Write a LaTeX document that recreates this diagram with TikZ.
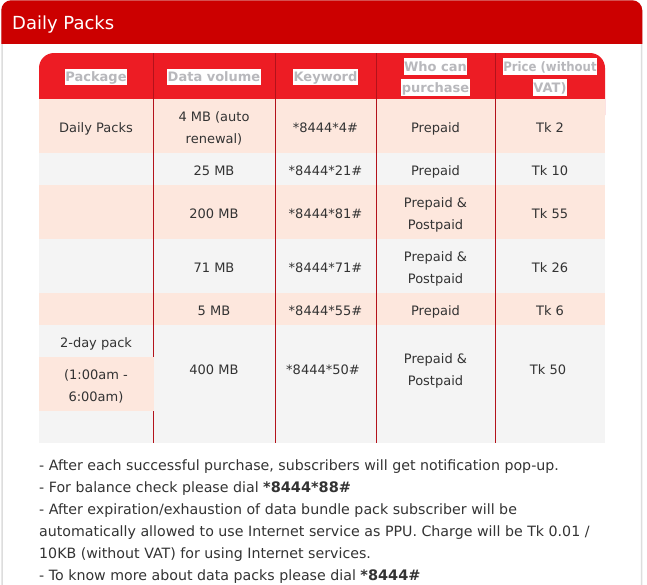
\documentclass[tikz,border=0pt]{standalone}
\usepackage{fontspec}
\setmainfont{DejaVu Sans}
\newfontfamily\condfont{DejaVu Sans Condensed}
\definecolor{barred}{HTML}{CC0000}
\definecolor{headred}{HTML}{ED1C24}
\definecolor{linered}{HTML}{B3121B}
\definecolor{peach}{HTML}{FDE7DD}
\definecolor{rowgray}{HTML}{F4F4F4}
\definecolor{headgray}{HTML}{B8B8BC}
\definecolor{textdark}{HTML}{333333}
\definecolor{framegray}{HTML}{DDDDDD}
\begin{document}
\begin{tikzpicture}[x=1pt,y=-1pt,
    cell/.style={anchor=base,inner sep=0pt,text=textdark,font=\fontsize{13}{15}\selectfont},
    head/.style={anchor=base,fill=white,text=headgray,inner xsep=0.5pt,inner ysep=1pt,
        text height=12pt,text depth=2.5pt,font=\fontsize{13}{15}\selectfont\bfseries},
    note/.style={anchor=base west,inner sep=0pt,text=textdark,font=\fontsize{14.2}{17}\selectfont}]
    \useasboundingbox (0,0) rectangle (647,584);
    \clip (0,0) rectangle (647,584);
    \fill [white] (0,0) rectangle (647,584);
    % frame and title bar
    \draw [framegray, line width=1.5pt, fill=white, rounded corners=10pt] (2,1) rectangle (641.5,620);
    \begin{scope}
        \clip (0,0) rectangle (647,43);
        \fill [barred, rounded corners=10pt] (1.25,0.25) rectangle (642.25,80);
    \end{scope}
    \node [anchor=base west, inner sep=0pt, text=white, font=\fontsize{18}{20}\selectfont] (title) at (12,29.5) {Daily Packs};
    % table background
    \fill [headred, rounded corners=15pt] (39,53) rectangle (605,130);
    \fill [peach] (39,99) rectangle (605,153);
    \fill [rowgray] (39,153) rectangle (605,185);
    \fill [peach] (39,185) rectangle (605,239);
    \fill [rowgray] (39,239) rectangle (605,293);
    \fill [peach] (39,293) rectangle (605,325);
    \fill [rowgray] (39,325) rectangle (605,443);
    \foreach \x in {153,275,376,495}
        \draw [linered, line width=1pt] (\x,53) -- (\x,443);
    \fill [peach] (39,357) rectangle (153.6,411);
    % header
    \node [head] (hpack) at (96,81.5) {Package};
    \node [head] (hdata) at (214,81.5) {Data volume};
    \node [head] (hkey) at (325.5,81.5) {Keyword};
    \node [head] (hwho) at (435.5,71) {Who can};
    \node [head] (hpur) at (435.5,92) {purchase};
    \node [head, font=\condfont\fontsize{13}{15}\selectfont\bfseries] (hprice) at (550,71) {Price (without};
    \node [head] (hvat) at (550,92) {VAT)};
    % rows
    \node [cell] (pdaily) at (96,132) {Daily Packs};
    \node [cell] (dfour) at (214,121) {4 MB (auto};
    \node [cell] (dren) at (214,143) {renewal)};
    \node [cell] (kfour) at (325.5,132) {*8444*4\#};
    \node [cell] (wfour) at (435.5,132) {Prepaid};
    \node [cell] (tfour) at (550,132) {Tk 2};
    \node [cell] (dtwentyfive) at (214,175) {25 MB};
    \node [cell] (ktwentyfive) at (325.5,175) {*8444*21\#};
    \node [cell] (wtwentyfive) at (435.5,175) {Prepaid};
    \node [cell] (ttwentyfive) at (550,175) {Tk 10};
    \node [cell] (dtwohundred) at (214,218) {200 MB};
    \node [cell] (ktwohundred) at (325.5,218) {*8444*81\#};
    \node [cell] (wtwohundred) at (435.5,207) {Prepaid \&};
    \node [cell] (wtwohundredb) at (435.5,229) {Postpaid};
    \node [cell] (ttwohundred) at (550,218) {Tk 55};
    \node [cell] (dseventyone) at (214,272) {71 MB};
    \node [cell] (kseventyone) at (325.5,272) {*8444*71\#};
    \node [cell] (wseventyone) at (435.5,261) {Prepaid \&};
    \node [cell] (wseventyoneb) at (435.5,283) {Postpaid};
    \node [cell] (tseventyone) at (550,272) {Tk 26};
    \node [cell] (dfive) at (214,315) {5 MB};
    \node [cell] (kfive) at (325.5,315) {*8444*55\#};
    \node [cell] (wfive) at (435.5,315) {Prepaid};
    \node [cell] (tfive) at (550,315) {Tk 6};
    \node [cell] (ptwoday) at (96,347) {2-day pack};
    \node [cell] (ptime) at (96,379) {(1:00am -};
    \node [cell] (ptimeb) at (96,401) {6:00am)};
    \node [cell] (dfourhundred) at (214,374) {400 MB};
    \node [cell] (kfourhundred) at (323,374) {*8444*50\#};
    \node [cell] (wfourhundred) at (435.5,363) {Prepaid \&};
    \node [cell] (wfourhundredb) at (435.5,385) {Postpaid};
    \node [cell] (tfourhundred) at (548,374) {Tk 50};
    % notes
    \node [note] (noteone) at (39,470) {- After each successful purchase, subscribers will get notification pop-up.};
    \node [note] (notetwo) at (39,492) {- For balance check please dial {\fontsize{14.5}{17}\selectfont\bfseries *8444*88\#}};
    \node [note] (notethree) at (39,514) {- After expiration/exhaustion of data bundle pack subscriber will be};
    \node [note] (notefour) at (39,536) {automatically allowed to use Internet service as PPU. Charge will be Tk 0.01 /};
    \node [note] (notefive) at (39,558) {10KB (without VAT) for using Internet services.};
    \node [note] (notesix) at (39,580) {- To know more about data packs please dial {\fontsize{14.5}{17}\selectfont\bfseries *8444\#}};
\end{tikzpicture}
\end{document}
